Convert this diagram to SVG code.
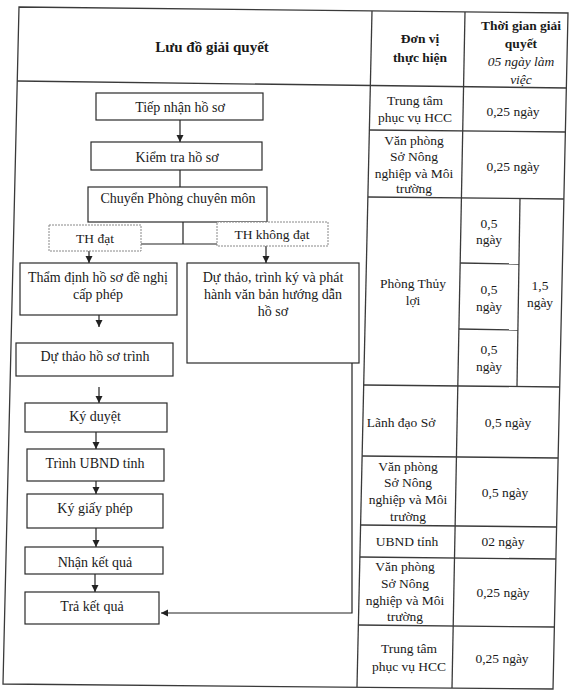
<svg xmlns="http://www.w3.org/2000/svg" width="576" height="697" viewBox="0 0 576 697">
<style>
text{font-family:"Liberation Serif","Times New Roman",serif;fill:#1a1a1a;text-anchor:middle}
.t{font-size:13.5px}
.f{font-size:14px}
.b{font-weight:bold;font-size:13.5px}
.i{font-style:italic;font-size:13.5px}
.tl{stroke:#3a3a3a;stroke-width:1.3;fill:none}
.box{fill:#fff;stroke:#2a2a2a;stroke-width:1.2}
.dash{fill:#fff;stroke:#888;stroke-width:1;stroke-dasharray:2 1}
.c{stroke:#222;stroke-width:1.2;fill:none}
.ca{stroke:#222;stroke-width:1.2;fill:none;marker-end:url(#ah)}
</style>
<defs>
<marker id="ah" markerUnits="userSpaceOnUse" markerWidth="8" markerHeight="8" refX="7" refY="4" orient="auto">
<path d="M0,0.5 L7,4 L0,7.5 z" fill="#222"/>
</marker>
</defs>
<rect width="576" height="697" fill="#fff"/>
<g id="table">
<polygon class="tl" points="19,7 568,13 553,689 3,684"/>
<line class="tl" x1="17" y1="81" x2="567" y2="88"/>
<line class="tl" x1="372" y1="11" x2="357" y2="687"/>
<line class="tl" x1="465" y1="12" x2="452" y2="688"/>
<line class="tl" x1="369.4" y1="130" x2="565.4" y2="132"/>
<line class="tl" x1="367.9" y1="197" x2="563.9" y2="199"/>
<line class="tl" x1="363.7" y1="385" x2="559.7" y2="387"/>
<line class="tl" x1="362.1" y1="456" x2="558.1" y2="458"/>
<line class="tl" x1="360.6" y1="525" x2="556.6" y2="527"/>
<line class="tl" x1="359.9" y1="557" x2="555.9" y2="559"/>
<line class="tl" x1="358.4" y1="625" x2="554.4" y2="627"/>
<line class="tl" x1="460.2" y1="263" x2="519" y2="264"/>
<line class="tl" x1="458.9" y1="329" x2="518" y2="330"/>
<line class="tl" x1="520" y1="198" x2="517" y2="386"/>
</g>
<g id="headers">
<text class="b" style="font-size:15px" x="212" y="52">Lưu đồ giải quyết</text>
<text class="b" x="420" y="43">Đơn vị</text>
<text class="b" x="420" y="62">thực hiện</text>
<text class="b" x="521" y="30">Thời gian giải</text>
<text class="b" x="521" y="48">quyết</text>
<text class="i" x="521" y="66">05 ngày làm</text>
<text class="i" x="521" y="84">việc</text>
</g>
<g id="units">
<text class="t" x="415" y="105">Trung tâm</text>
<text class="t" x="415" y="122">phục vụ HCC</text>
<text class="t" x="513" y="116">0,25 ngày</text>
<text class="t" x="414" y="145">Văn phòng</text>
<text class="t" x="414" y="161">Sở Nông</text>
<text class="t" x="414" y="178">nghiệp và Môi</text>
<text class="t" x="414" y="193">trường</text>
<text class="t" x="513" y="171">0,25 ngày</text>
<text class="t" x="413" y="288">Phòng Thủy</text>
<text class="t" x="413" y="305">lợi</text>
<text class="t" x="489" y="228">0,5</text>
<text class="t" x="489" y="244">ngày</text>
<text class="t" x="489" y="294">0,5</text>
<text class="t" x="489" y="311">ngày</text>
<text class="t" x="489" y="354">0,5</text>
<text class="t" x="489" y="371">ngày</text>
<text class="t" x="540" y="290">1,5</text>
<text class="t" x="540" y="307">ngày</text>
<text class="t" x="401" y="427">Lãnh đạo Sở</text>
<text class="t" x="508" y="427">0,5 ngày</text>
<text class="t" x="408" y="471">Văn phòng</text>
<text class="t" x="408" y="487">Sở Nông</text>
<text class="t" x="408" y="504">nghiệp và Môi</text>
<text class="t" x="408" y="521">trường</text>
<text class="t" x="505" y="497">0,5 ngày</text>
<text class="t" x="407" y="546">UBND tỉnh</text>
<text class="t" x="503" y="546">02 ngày</text>
<text class="t" x="405" y="571">Văn phòng</text>
<text class="t" x="405" y="588">Sở Nông</text>
<text class="t" x="405" y="605">nghiệp và Môi</text>
<text class="t" x="405" y="621">trường</text>
<text class="t" x="503" y="597">0,25 ngày</text>
<text class="t" x="409" y="653">Trung tâm</text>
<text class="t" x="409" y="671">phục vụ HCC</text>
<text class="t" x="502" y="663">0,25 ngày</text>
</g>
<g id="connectors">
<path class="ca" d="M180,120 V142"/>
<path class="c" d="M180,170 V187"/>
<path class="c" d="M183,222 V244"/>
<path class="c" d="M89,244 H266"/>
<path class="ca" d="M89,244 V263"/>
<path class="ca" d="M266,244 V263"/>
<path class="ca" d="M99,315 V327"/>
<path class="ca" d="M99,387 V403"/>
<path class="ca" d="M96,432 V449"/>
<path class="ca" d="M96,481 V494"/>
<path class="ca" d="M96,528 V547"/>
<path class="ca" d="M95,574 V592"/>
<path class="ca" d="M352,363 V613 H161"/>
</g>
<g id="n-tiep-nhan"><rect class="box" x="96" y="93" width="167" height="27"/><text class="f" x="180" y="112">Tiếp nhận hồ sơ</text></g>
<g id="n-kiem-tra"><rect class="box" x="91" y="142" width="171" height="28"/><text class="f" x="177" y="162">Kiểm tra hồ sơ</text></g>
<g id="n-chuyen"><rect class="box" x="88" y="187" width="179" height="35"/><text class="f" x="178" y="203">Chuyển Phòng chuyên môn</text></g>
<g id="n-th-dat"><rect class="dash" x="49" y="225" width="92" height="26"/><text class="t" x="95" y="243">TH đạt</text></g>
<g id="n-th-khong-dat"><rect class="dash" x="217" y="222" width="111" height="24"/><text class="t" x="272" y="239">TH không đạt</text></g>
<g id="n-tham-dinh"><rect class="box" x="20" y="263" width="157" height="52"/><text class="f" x="98" y="282">Thẩm định hồ sơ đề nghị</text><text class="f" x="98" y="299">cấp phép</text></g>
<g id="n-du-thao-ho-so"><rect class="box" x="16" y="343" width="157" height="33"/><text class="f" x="95" y="361">Dự thảo hồ sơ trình</text></g>
<g id="n-du-thao-van-ban"><rect class="box" x="187" y="263" width="172" height="100"/><text class="f" x="273" y="282">Dự thảo, trình ký và phát</text><text class="f" x="273" y="299">hành văn bản hướng dẫn</text><text class="f" x="273" y="316">hồ sơ</text></g>
<g id="n-ky-duyet"><rect class="box" x="25" y="403" width="142" height="29"/><text class="f" x="95" y="421">Ký duyệt</text></g>
<g id="n-trinh-ubnd"><rect class="box" x="27" y="449" width="137" height="32"/><text class="f" x="95" y="468">Trình UBND tỉnh</text></g>
<g id="n-ky-giay-phep"><rect class="box" x="27" y="494" width="136" height="34"/><text class="f" x="95" y="513">Ký giấy phép</text></g>
<g id="n-nhan-ket-qua"><rect class="box" x="25" y="547" width="138" height="27"/><text class="f" x="95" y="567">Nhận kết quả</text></g>
<g id="n-tra-ket-qua"><rect class="box" x="25" y="592" width="134" height="32"/><text class="f" x="92" y="611">Trả kết quả</text></g>
</svg>
